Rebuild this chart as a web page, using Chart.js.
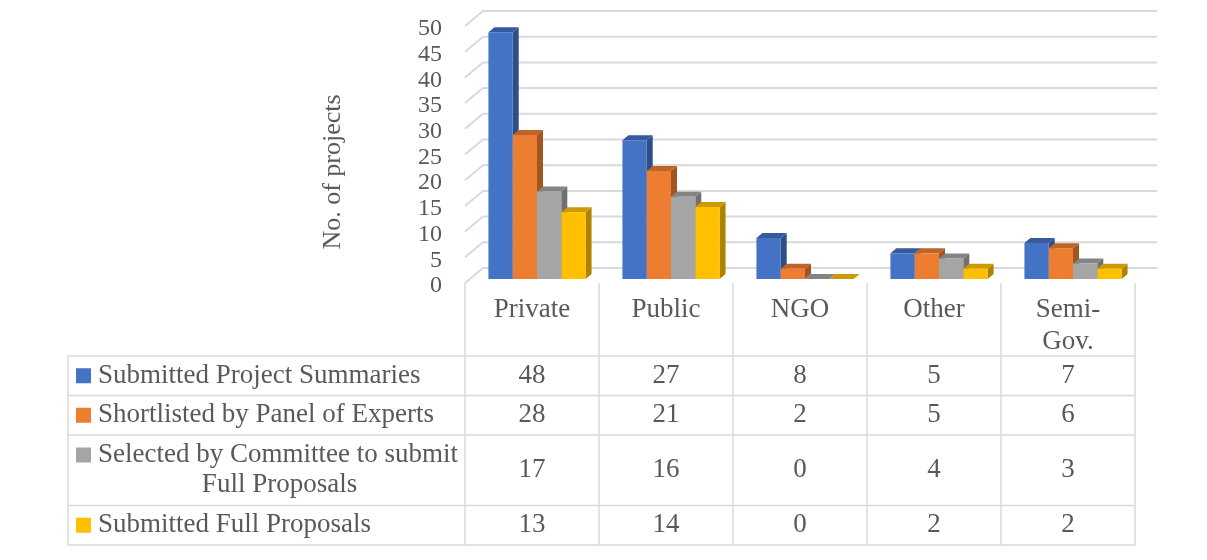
<!DOCTYPE html>
<html>
<head>
<meta charset="utf-8">
<script src="https://cdn.jsdelivr.net/npm/chart.js@4.4.1/dist/chart.umd.min.js"></script>
<style>
  html, body { margin: 0; padding: 0; background: #fff; }
  #wrap { width: 1207px; height: 560px; }
</style>
</head>
<body>
<div id="wrap"><canvas id="projectsChart"></canvas></div>
<script>
// --- Data ---
const sectors = [['Private'], ['Public'], ['NGO'], ['Other'], ['Semi-', 'Gov.']];
const seriesNames = [
    ['Submitted Project Summaries'],
    ['Shortlisted by Panel of Experts'],
    ['Selected by Committee to submit', 'Full Proposals'],
    ['Submitted Full Proposals']
];
const submittedSummaries = [48, 27, 8, 5, 7];
const shortlisted = [28, 21, 2, 5, 6];
const selectedForFull = [17, 16, 0, 4, 3];
const submittedFull = [13, 14, 0, 2, 2];
const seriesColors = ['#4472C4', '#ED7D31', '#A5A5A5', '#FFC000'];
const yMax = 50;
const yStep = 5;

const seriesData = [submittedSummaries, shortlisted, selectedForFull, submittedFull];

// --- Look ---
const FONT = "'Liberation Serif', 'Times New Roman', serif";
const TEXT = '#595959';
const GRID = '#d9d9d9';
// oblique offsets from the bars' front plane
const FRONT = { dx: -5, dy: 4 };   // front edge of the floor / axis
const DEPTH = { dx: 6, dy: -5 };   // bar thickness
const WALL = { dx: 13, dy: -11 };  // back wall

function shade(hex, f) {
    const n = parseInt(hex.slice(1), 16);
    const r = Math.round(((n >> 16) & 255) * f);
    const g = Math.round(((n >> 8) & 255) * f);
    const b = Math.round((n & 255) * f);
    return `rgb(${r},${g},${b})`;
}

// Walls, gridlines and the side/top faces of the columns
const columns3d = {
    id: 'columns3d',
    beforeDatasetsDraw(chart) {
        const { ctx, chartArea: a, scales: { y } } = chart;
        ctx.save();
        ctx.strokeStyle = GRID;
        ctx.lineWidth = 2;
        y.ticks.forEach(t => {
            const py = y.getPixelForValue(t.value);
            ctx.beginPath();
            ctx.moveTo(a.left + FRONT.dx, py + FRONT.dy);
            ctx.lineTo(a.left + WALL.dx, py + WALL.dy);
            ctx.lineTo(a.right + WALL.dx + 4, py + WALL.dy);
            ctx.stroke();
        });

        const metas = chart.data.datasets.map((_, i) => chart.getDatasetMeta(i));
        for (let c = 0; c < sectors.length; c++) {
            metas.forEach((meta, d) => {
                const { x, y: top, base, width } = meta.data[c].getProps(['x', 'y', 'base', 'width'], true);
                const l = x - width / 2, r = x + width / 2;
                const col = seriesColors[d];
                // right side
                ctx.fillStyle = shade(col, 0.68);
                ctx.beginPath();
                ctx.moveTo(r, top);
                ctx.lineTo(r + DEPTH.dx, top + DEPTH.dy);
                ctx.lineTo(r + DEPTH.dx, base + DEPTH.dy);
                ctx.lineTo(r, base);
                ctx.closePath();
                ctx.fill();
                // top
                ctx.fillStyle = shade(col, 0.8);
                ctx.beginPath();
                ctx.moveTo(l, top);
                ctx.lineTo(l + DEPTH.dx, top + DEPTH.dy);
                ctx.lineTo(r + DEPTH.dx, top + DEPTH.dy);
                ctx.lineTo(r, top);
                ctx.closePath();
                ctx.fill();
            });
        }
        ctx.restore();
    },

    // Data table under the plot, axis title
    afterDraw(chart) {
        const { ctx, scales: { x, y } } = chart;
        const band = (x.right - x.left) / sectors.length;
        const colX = [];
        for (let i = 0; i <= sectors.length; i++) colX.push(x.left + FRONT.dx + i * band);
        const floorY = y.getPixelForValue(0) + FRONT.dy;
        const tableLeft = 68, tableTop = 356;
        const rowH = 39.5, lineH = 31;
        const rowEdges = [tableTop];
        seriesNames.forEach(lines => {
            rowEdges.push(rowEdges[rowEdges.length - 1] + rowH + (lines.length - 1) * lineH);
        });
        const tableBottom = rowEdges[rowEdges.length - 1];

        ctx.save();
        ctx.strokeStyle = GRID;
        ctx.lineWidth = 1.5;
        ctx.beginPath();
        colX.forEach(cx => { ctx.moveTo(cx, floorY); ctx.lineTo(cx, tableBottom); });
        ctx.moveTo(tableLeft, tableTop);
        ctx.lineTo(tableLeft, tableBottom);
        rowEdges.forEach(ry => { ctx.moveTo(tableLeft, ry); ctx.lineTo(colX[colX.length - 1], ry); });
        ctx.stroke();

        ctx.fillStyle = TEXT;
        ctx.font = `27px ${FONT}`;
        ctx.textBaseline = 'middle';
        ctx.textAlign = 'center';

        // category header
        sectors.forEach((lines, i) => {
            const cx = (colX[i] + colX[i + 1]) / 2;
            lines.forEach((txt, k) => ctx.fillText(txt, cx, floorY + 27 + k * 32));
        });

        // series rows
        const keyX = 76, textX = 98, textRight = colX[0] - 4;
        seriesNames.forEach((lines, r) => {
            const top = rowEdges[r], bottom = rowEdges[r + 1];
            const firstY = lines.length > 1 ? top + 20 : (top + bottom) / 2;
            ctx.fillStyle = seriesColors[r];
            ctx.fillRect(keyX, firstY - 7.5, 15, 15);
            ctx.fillStyle = TEXT;
            lines.forEach((txt, k) => {
                if (k === 0) {
                    ctx.textAlign = 'left';
                    ctx.fillText(txt, textX, firstY);
                } else {
                    ctx.textAlign = 'center';
                    ctx.fillText(txt, (textX + textRight) / 2, firstY + k * 30);
                }
            });
            ctx.textAlign = 'center';
            seriesData[r].forEach((v, i) => {
                ctx.fillText(String(v), (colX[i] + colX[i + 1]) / 2, (top + bottom) / 2);
            });
        });

        // y axis title
        ctx.translate(340, 172);
        ctx.rotate(-Math.PI / 2);
        ctx.textAlign = 'center';
        ctx.textBaseline = 'alphabetic';
        ctx.font = `26px ${FONT}`;
        ctx.fillText('No. of projects', 0, 0);
        ctx.restore();
    }
};

const chart = new Chart(document.getElementById('projectsChart'), {
    type: 'bar',
    data: {
        labels: sectors,
        datasets: seriesNames.map((name, i) => ({
            label: name.join(' '),
            data: seriesData[i],
            backgroundColor: seriesColors[i],
            borderWidth: 0,
            barPercentage: 1,
            categoryPercentage: 0.725
        }))
    },
    options: {
        responsive: true,
        maintainAspectRatio: false,
        animation: false,
        layout: { padding: { left: 0, right: 67, top: 22, bottom: 281 } },
        plugins: {
            legend: { display: false },
            tooltip: { enabled: false }
        },
        scales: {
            x: { display: false },
            y: {
                min: 0,
                max: yMax,
                ticks: {
                    stepSize: yStep,
                    autoSkip: false,
                    color: TEXT,
                    font: { family: FONT, size: 24, lineHeight: 1 },
                    padding: 28,
                    labelOffset: 7
                },
                grid: { display: false, drawTicks: false },
                border: { display: false },
                afterFit(scale) {
                    // fixed axis box; the plot area is placed by layout.padding alone
                    scale.width = 470;
                    scale.paddingTop = 0;
                    scale.paddingBottom = 0;
                }
            }
        }
    },
    plugins: [columns3d]
});
</script>
</body>
</html>
